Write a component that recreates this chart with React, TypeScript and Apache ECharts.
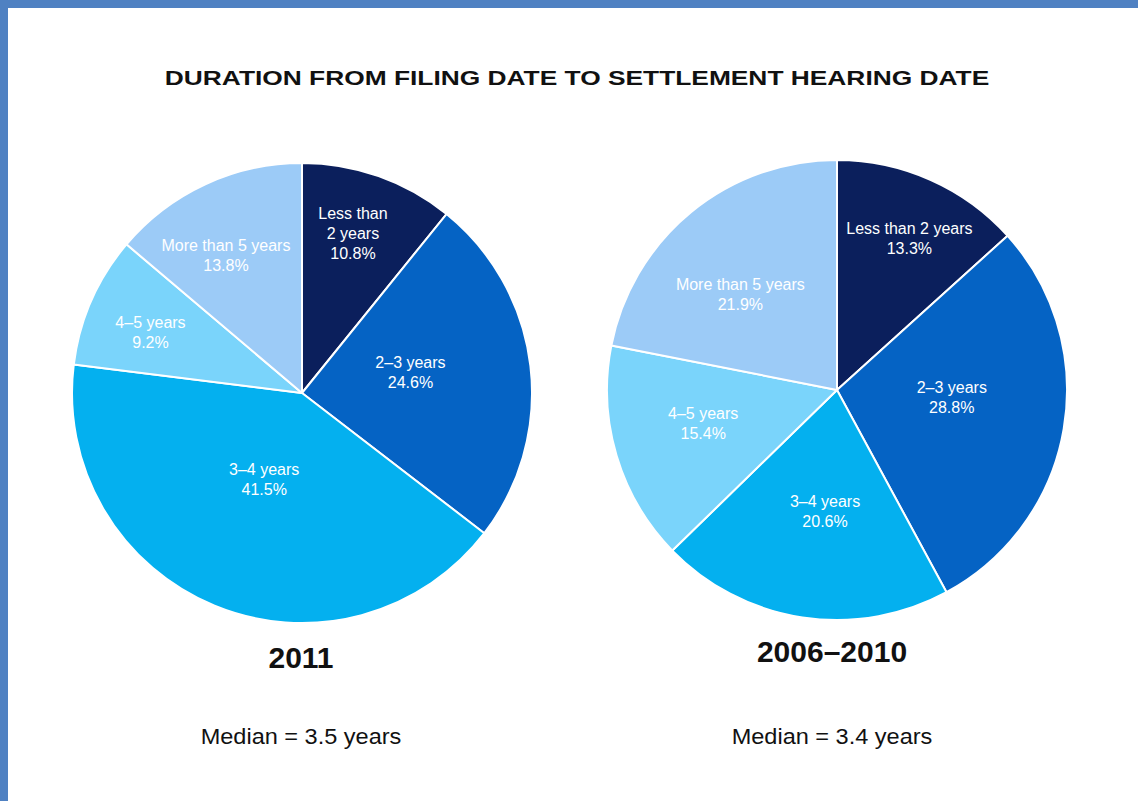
import React, { useEffect, useRef } from "react";
import * as echarts from "echarts";

const categories = ["Less than 2 years", "2–3 years", "3–4 years", "4–5 years", "More than 5 years"];
const labels2011 = ["Less than\n2 years", "2–3 years", "3–4 years", "4–5 years", "More than 5 years"];
const labels0610 = ["Less than 2 years", "2–3 years", "3–4 years", "4–5 years", "More than 5 years"];
const values2011 = [10.8, 24.6, 41.5, 9.2, 13.8];
const values0610 = [13.3, 28.8, 20.6, 15.4, 21.9];
const sliceColors = ["#0b1f5c", "#0563c4", "#04b0ef", "#7ad4fb", "#9ccbf7"];

const titleText = "DURATION FROM FILING DATE TO SETTLEMENT HEARING DATE";
const pieTitles = ["2011", "2006–2010"];
const medianTexts = ["Median = 3.5 years", "Median = 3.4 years"];

// label placement styling (fraction of radius, angular shift in degrees)
const labelRadius2011 = [0.73, 0.48, 0.41, 0.71, 0.685];
const labelShift2011 = [-1.8, -4, 1.3, -1.8, -4];
const labelRadius0610 = [0.73, 0.5, 0.53, 0.6, 0.59];
const labelShift0610 = [1.6, -6, -3, 2.4, -6];

const FONT = "'Liberation Sans', Arial, sans-serif";

function makeLayout(values: number[], cx: number, cy: number, r: number, fr: number[], shift: number[]) {
  const total = values.reduce((a, b) => a + b, 0);
  return (p: any) => {
    const i = p.dataIndex;
    let before = 0;
    for (let j = 0; j < i; j++) before += values[j];
    const mid = ((before + values[i] / 2) / total) * 360 + shift[i];
    const rad = (mid * Math.PI) / 180;
    const d = r * fr[i];
    return {
      x: cx + d * Math.sin(rad),
      y: cy - d * Math.cos(rad),
      align: "center",
      verticalAlign: "middle",
    };
  };
}

function pieSeries(values: number[], labels: string[], cx: number, cy: number, r: number, fr: number[], shift: number[]) {
  return {
    type: "pie",
    center: [cx, cy],
    radius: r,
    startAngle: 90,
    clockwise: true,
    silent: true,
    avoidLabelOverlap: false,
    itemStyle: { borderColor: "#ffffff", borderWidth: 2 },
    label: {
      show: true,
      position: "inside",
      color: "#ffffff",
      fontFamily: FONT,
      fontSize: 16,
      lineHeight: 20,
      formatter: (p: any) => labels[p.dataIndex] + "\n" + Number(p.value).toFixed(1) + "%",
    },
    labelLine: { show: false },
    labelLayout: makeLayout(values, cx, cy, r, fr, shift),
    data: values.map((v, i) => ({
      name: categories[i],
      value: v,
      itemStyle: { color: sliceColors[i] },
    })),
  };
}

export default function App() {
  const ref = useRef<HTMLDivElement>(null);
  useEffect(() => {
    if (!ref.current) return;
    const chart = echarts.init(ref.current, undefined, { renderer: "svg" });
    chart.setOption({
      animation: false,
      backgroundColor: "#ffffff",
      graphic: [
        { type: "rect", left: 0, top: 0, shape: { width: 8, height: 801 }, style: { fill: "#4f81c2" } },
        { type: "rect", left: 0, top: 0, shape: { width: 1138, height: 8 }, style: { fill: "#4f81c2" } },
        {
          type: "text",
          x: 577,
          y: 78,
          scaleX: 1.317,
          style: {
            text: titleText,
            fill: "#111111",
            font: `bold 20px ${FONT}`,
            align: "center",
            verticalAlign: "middle",
          },
        },
        {
          type: "text",
          x: 301,
          y: 657,
          style: { text: pieTitles[0], fill: "#111111", font: `bold 30px ${FONT}`, align: "center", verticalAlign: "middle" },
        },
        {
          type: "text",
          x: 832,
          y: 651,
          style: { text: pieTitles[1], fill: "#111111", font: `bold 30px ${FONT}`, align: "center", verticalAlign: "middle" },
        },
        {
          type: "text",
          x: 301,
          y: 736,
          scaleX: 1.07,
          style: { text: medianTexts[0], fill: "#111111", font: `22px ${FONT}`, align: "center", verticalAlign: "middle" },
        },
        {
          type: "text",
          x: 832,
          y: 736,
          scaleX: 1.07,
          style: { text: medianTexts[1], fill: "#111111", font: `22px ${FONT}`, align: "center", verticalAlign: "middle" },
        },
      ],
      series: [
        pieSeries(values2011, labels2011, 302, 393, 230, labelRadius2011, labelShift2011),
        pieSeries(values0610, labels0610, 837, 390, 230, labelRadius0610, labelShift0610),
      ],
    });
    return () => chart.dispose();
  }, []);
  return <div ref={ref} style={{ position: "fixed", left: 0, top: 0, width: 1138, height: 801 }} />;
}
